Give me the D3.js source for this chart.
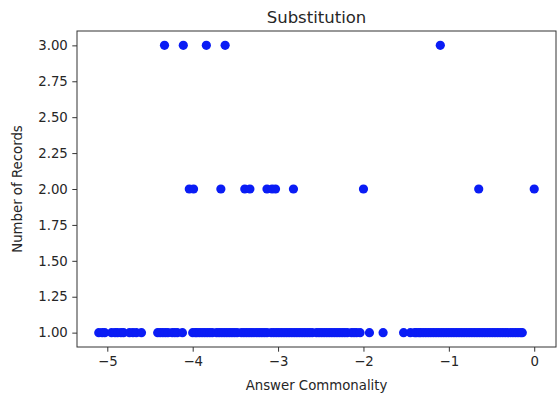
<!DOCTYPE html>
<html lang="en">
<head>
<meta charset="UTF-8">
<title>Substitution</title>
<script src="https://cdn.jsdelivr.net/npm/d3@7"></script>
<style>
  body { margin: 0; background: #fff; }
  text { font-family: "DejaVu Sans", sans-serif; fill: #262626; }
</style>
</head>
<body>
<script>

var width = 559,
    height = 400

// answer commonality for records seen 3 times, 2 times, once
var x3 = [-4.33, -4.11, -3.84, -3.62, -1.10]
var x2 = [-4.04, -3.99, -3.67, -3.39, -3.33, -3.13, -3.07, -3.03, -2.82, -2.00, -0.65, 0.00]
var x1 = [-5.10, -5.06, -5.03, -4.95, -4.91, -4.88, -4.84, -4.81, -4.74, -4.70, -4.66, -4.60,
          -4.41, -4.38, -4.35, -4.32, -4.29, -4.24, -4.21, -4.18, -4.12,
          -4.00, -3.97, -3.95, -3.92, -3.89, -3.86, -3.83, -3.80, -3.77, -3.72, -3.69,
          -3.66, -3.63, -3.60, -3.57, -3.54, -3.51, -3.48, -3.43, -3.40, -3.37, -3.34,
          -3.31, -3.28, -3.25, -3.22, -3.19, -3.16, -3.13, -3.08, -3.05, -3.02, -2.99,
          -2.96, -2.93, -2.90, -2.87, -2.84, -2.81, -2.78, -2.75, -2.72, -2.69, -2.66,
          -2.63, -2.60, -2.55, -2.52, -2.49, -2.46, -2.43, -2.40, -2.37, -2.34, -2.31,
          -2.28, -2.25, -2.22, -2.19, -2.14, -2.11, -2.08, -2.04,
          -1.93, -1.77,
          -1.53, -1.45, -1.40, -1.38, -1.35, -1.33, -1.30, -1.27, -1.24, -1.21, -1.18,
          -1.15, -1.12, -1.09, -1.06, -1.03, -1.00, -0.97, -0.94, -0.91, -0.88, -0.85,
          -0.82, -0.79, -0.76, -0.73, -0.70, -0.67, -0.64, -0.61, -0.58, -0.55, -0.52,
          -0.49, -0.46, -0.43, -0.40, -0.37, -0.34, -0.31, -0.28, -0.25, -0.22, -0.19,
          -0.16, -0.14]

var xTicks = [-5, -4, -3, -2, -1, 0]
var yTicks = [1.00, 1.25, 1.50, 1.75, 2.00, 2.25, 2.50, 2.75, 3.00]

var points = []
x1.forEach(function(v){ points.push({x: v, y: 1}) })
x2.forEach(function(v){ points.push({x: v, y: 2}) })
x3.forEach(function(v){ points.push({x: v, y: 3}) })

var margin = {top: 31, right: 3, bottom: 53, left: 77}
var w = width - margin.left - margin.right,
    h = height - margin.top - margin.bottom

var svg = d3.select("body").append("svg")
    .attr("width", width)
    .attr("height", height)

var g = svg.append("g").attr("transform", "translate(" + margin.left + "," + margin.top + ")")

var x = d3.scaleLinear().domain([-5.355, 0.255]).range([0, w])
var y = d3.scaleLinear().domain([0.9, 3.1]).range([h, 0])

var minus = function(d){ return d3.format("d")(d).replace("-", "\u2212") }

g.append("g")
    .attr("transform", "translate(0," + h + ")")
    .call(d3.axisBottom(x).tickValues(xTicks).tickFormat(minus).tickSize(4.7).tickPadding(4.5))
g.append("g")
    .call(d3.axisLeft(y).tickValues(yTicks).tickFormat(d3.format(".2f")).tickSize(4.7).tickPadding(4.5))

g.selectAll(".domain").remove()
g.selectAll(".tick line").attr("stroke", "#333").attr("stroke-width", 1)
g.selectAll(".tick text").style("font-size", "13.3px").style("fill", "#262626")

g.selectAll("circle").data(points).enter()
    .append("circle")
    .attr("cx", function(d){ return x(d.x) })
    .attr("cy", function(d){ return y(d.y) })
    .attr("r", 4.6)
    .style("fill", "#0a1cf5")

g.append("rect")
    .attr("width", w).attr("height", h)
    .attr("fill", "none").attr("stroke", "#333").attr("stroke-width", 1)

svg.append("text")
    .attr("x", margin.left + w / 2).attr("y", margin.top - 8)
    .attr("text-anchor", "middle")
    .style("font-size", "16.5px")
    .text("Substitution")

svg.append("text")
    .attr("x", margin.left + w / 2).attr("y", height - 10)
    .attr("text-anchor", "middle")
    .style("font-size", "13.3px")
    .text("Answer Commonality")

svg.append("text")
    .attr("transform", "translate(22," + (margin.top + h / 2) + ") rotate(-90)")
    .attr("text-anchor", "middle")
    .style("font-size", "13.3px")
    .text("Number of Records")

</script>
</body>
</html>
